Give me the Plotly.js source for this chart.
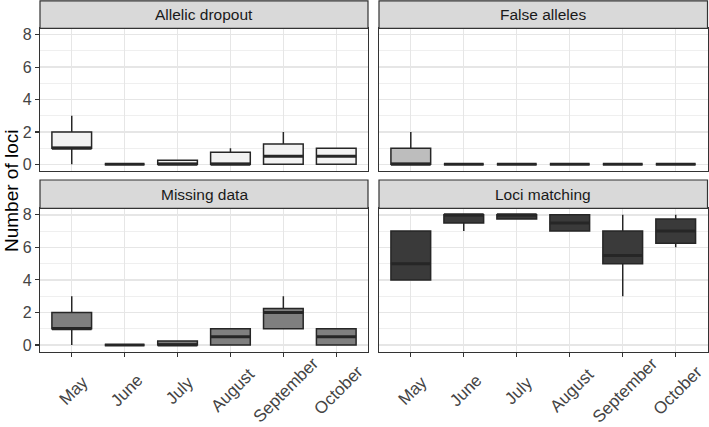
<!DOCTYPE html>
<html>
<head>
<meta charset="utf-8">
<script src="https://cdn.plot.ly/plotly-3.0.1.min.js"></script>
<style>html,body{margin:0;padding:0;background:#fff;}#chart{width:709px;height:427px;}</style>
</head>
<body>
<div id="chart"></div>
<script>
const months = ['May', 'June', 'July', 'August', 'September', 'October'];
const panelNames = ['Allelic dropout', 'False alleles', 'Missing data', 'Loci matching'];

// Allelic dropout
const adLow  = [0, 0, 0, 0, 0, 0];
const adQ1   = [1, 0, 0, 0, 0, 0];
const adMed  = [1, 0, 0, 0, 0.5, 0.5];
const adQ3   = [2, 0, 0.25, 0.75, 1.25, 1];
const adHigh = [3, 0, 0.25, 1, 2, 1];

// False alleles
const faLow  = [0, 0, 0, 0, 0, 0];
const faQ1   = [0, 0, 0, 0, 0, 0];
const faMed  = [0, 0, 0, 0, 0, 0];
const faQ3   = [1, 0, 0, 0, 0, 0];
const faHigh = [2, 0, 0, 0, 0, 0];

// Missing data
const mdLow  = [0, 0, 0, 0, 1, 0];
const mdQ1   = [1, 0, 0, 0, 1, 0];
const mdMed  = [1, 0, 0, 0.5, 2, 0.5];
const mdQ3   = [2, 0, 0.25, 1, 2.25, 1];
const mdHigh = [3, 0, 0.25, 1, 3, 1];

// Loci matching
const lmLow  = [4, 7, 7.75, 7, 3, 6];
const lmQ1   = [4, 7.5, 7.75, 7, 5, 6.25];
const lmMed  = [5, 8, 8, 7.5, 5.5, 7];
const lmQ3   = [7, 8, 8, 8, 7, 7.75];
const lmHigh = [7, 8, 8, 8, 8, 8];

const yTicks = [0, 2, 4, 6, 8];

const stats = [
  {low: adLow, q1: adQ1, med: adMed, q3: adQ3, high: adHigh},
  {low: faLow, q1: faQ1, med: faMed, q3: faQ3, high: faHigh},
  {low: mdLow, q1: mdQ1, med: mdMed, q3: mdQ3, high: mdHigh},
  {low: lmLow, q1: lmQ1, med: lmMed, q3: lmQ3, high: lmHigh}
];
const fills = ['#f2f2f2', '#bdbdbd', '#7f7f7f', '#3a3a3a'];
const outline = '#262626';
const boxW = 0.75;
const xs = months.map((m, i) => i + 1);
const FONT = 'Liberation Sans, Arial, sans-serif';

const axSuffix = ['', '2', '3', '4'];
const traces = [];
stats.forEach((s, p) => {
  traces.push({
    type: 'box',
    x: xs,
    q1: s.q1, median: s.med, q3: s.q3,
    lowerfence: s.low, upperfence: s.high,
    width: boxW,
    boxpoints: false,
    whiskerwidth: 0,
    fillcolor: fills[p],
    line: {color: outline, width: 1.5},
    xaxis: 'x' + axSuffix[p],
    yaxis: 'y' + axSuffix[p],
    hoverinfo: 'skip',
    showlegend: false
  });
  const mx = [], my = [];
  xs.forEach((x, i) => {
    mx.push(x - boxW / 2, x + boxW / 2, null);
    my.push(s.med[i], s.med[i], null);
  });
  traces.push({
    type: 'scatter', mode: 'lines', x: mx, y: my,
    line: {color: outline, width: 3},
    xaxis: 'x' + axSuffix[p], yaxis: 'y' + axSuffix[p],
    hoverinfo: 'skip', showlegend: false
  });
});

const W = 709, H = 427;
const xL = [40 / W, 368 / W], xR = [379 / W, 707.5 / W];
const yT = [1 - 170.8 / H, 1 - 28.3 / H], yB = [1 - 351.5 / H, 1 - 208.3 / H];
const stripT = [1 - 28.3 / H, 1 - 0.8 / H], stripB = [1 - 208.3 / H, 1 - 180 / H];

function xax(domain, anchor, showTicks) {
  return {
    domain: domain, anchor: anchor, range: [0.4, 6.6],
    tickmode: 'array', tickvals: xs, ticktext: months,
    showticklabels: false, ticks: showTicks ? 'outside' : '',
    ticklen: 4, tickwidth: 1.2, tickcolor: '#333333',
    showgrid: true, gridcolor: '#e6e6e6', gridwidth: 1.4, zeroline: false,
    showline: true, mirror: true, linecolor: '#333333', linewidth: 1.2,
    fixedrange: true
  };
}
function yax(domain, anchor, showLabels) {
  return {
    domain: domain, anchor: anchor, range: [-0.4, 8.4],
    tickmode: 'array', tickvals: yTicks,
    showticklabels: showLabels, ticks: showLabels ? 'outside' : '',
    ticklen: 4, tickwidth: 1.2, tickcolor: '#333333',
    tickfont: {family: FONT, size: 16, color: '#444444'},
    showgrid: true, gridcolor: '#e6e6e6', gridwidth: 1.4, zeroline: false,
    minor: {dtick: 1, tick0: 0, showgrid: true, gridcolor: '#ebebeb', gridwidth: 0.8, ticks: ''},
    showline: true, mirror: true, linecolor: '#333333', linewidth: 1.2,
    fixedrange: true
  };
}

const shapes = [], annotations = [];
const stripDefs = [[xL, stripT], [xR, stripT], [xL, stripB], [xR, stripB]];
stripDefs.forEach((d, p) => {
  shapes.push({type: 'rect', xref: 'paper', yref: 'paper',
    x0: d[0][0], x1: d[0][1], y0: d[1][0], y1: d[1][1],
    fillcolor: '#d9d9d9', line: {color: '#333333', width: 1.2}, layer: 'above'});
  annotations.push({xref: 'paper', yref: 'paper',
    x: (d[0][0] + d[0][1]) / 2, y: (d[1][0] + d[1][1]) / 2,
    text: panelNames[p], showarrow: false, xanchor: 'center', yanchor: 'middle',
    font: {family: FONT, size: 15.5, color: '#1a1a1a'}});
});
annotations.push({xref: 'paper', yref: 'paper', x: 11 / W, y: 1 - 191 / H,
  text: 'Number of loci', showarrow: false, textangle: -90,
  xanchor: 'center', yanchor: 'middle',
  font: {family: FONT, size: 19, color: '#000000'}});

// x tick labels (rotated, centred on each category of the bottom axes)
['x3', 'x4'].forEach(ax => {
  months.forEach((m, i) => {
    annotations.push({xref: ax, yref: 'paper', x: xs[i], y: 1 - 390 / H,
      text: m, showarrow: false, textangle: -45, xshift: 2,
      xanchor: 'center', yanchor: 'middle', borderpad: 0,
      font: {family: FONT, size: 17, color: '#444444'}});
  });
});

const layout = {
  width: W, height: H,
  margin: {l: 0, r: 0, t: 0, b: 0, pad: 0},
  paper_bgcolor: '#ffffff', plot_bgcolor: '#ffffff',
  showlegend: false, boxmode: 'overlay',
  xaxis: xax(xL, 'y', false),
  yaxis: yax(yT, 'x', true),
  xaxis2: xax(xR, 'y2', false),
  yaxis2: yax(yT, 'x2', false),
  xaxis3: xax(xL, 'y3', true),
  yaxis3: yax(yB, 'x3', true),
  xaxis4: xax(xR, 'y4', true),
  yaxis4: yax(yB, 'x4', false),
  shapes: shapes,
  annotations: annotations
};

Plotly.newPlot('chart', traces, layout, {displayModeBar: false, staticPlot: true});
</script>
</body>
</html>
